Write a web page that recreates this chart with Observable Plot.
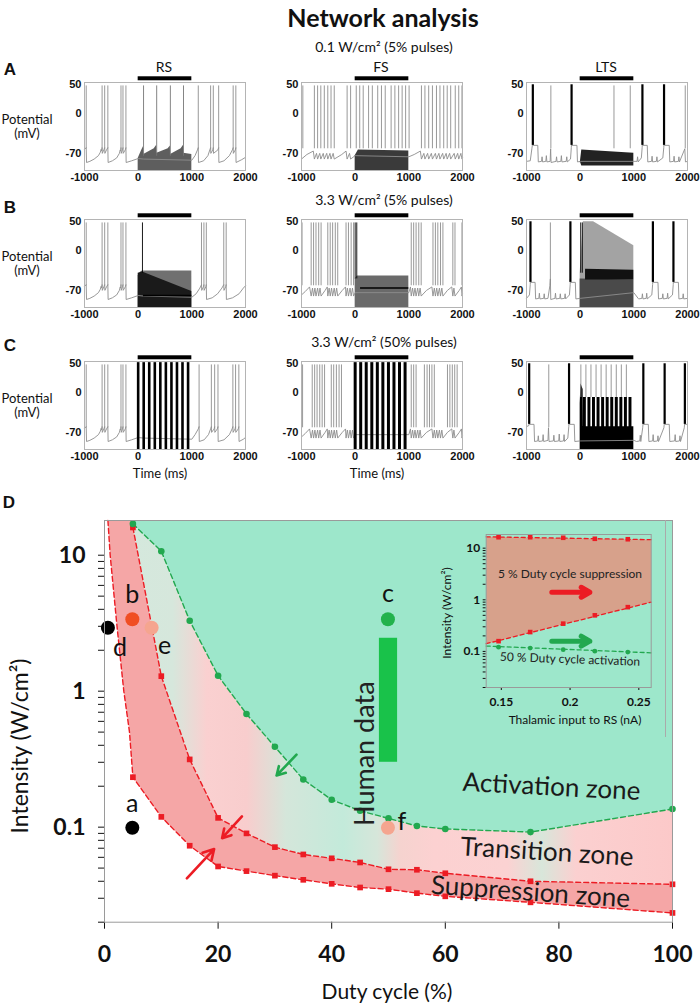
<!DOCTYPE html>
<html><head><meta charset="utf-8">
<script src="https://cdn.jsdelivr.net/npm/d3@7"></script>
<script src="https://cdn.jsdelivr.net/npm/@observablehq/plot@0.6"></script>
<style>
body{margin:0;background:#fff;}
#root{position:relative;width:700px;height:1004px;overflow:hidden;font-family:Lato,"Open Sans",sans-serif;color:#111;}
.t{position:absolute;white-space:nowrap;transform:translate(-50%,-50%);line-height:1;}
</style></head><body><div id="root"></div>
<script>
// ---------------- DATA: voltage traces ----------------
const traceTicksX = [-1000, 0, 1000, 2000];
const traceTicksY = [-70, 0, 50];
const stimWindow = [0, 1000];

// RS cell
const rsBasePre = [[-1000,-63],[-968,-60],[-962,-86],[-900,-84],[-820,-80],[-740,-74],[-705,-68],[-690,-63],[-682,-66],[-672,-60],[-668,-70],[-640,-64],[-624,-60],[-620,-70],[-590,-64],[-565,-60],[-560,-86],[-480,-83],[-400,-78],[-350,-70],[-335,-64],[-326,-66],[-320,-60],[-316,-70],[-293,-64],[-283,-60],[-279,-70],[-240,-64],[-228,-60],[-224,-86],[-120,-83],[0,-79],[100,-80],[1000,-82]];
const rsSpikesPre = [-968,-672,-624,-565,-320,-283,-228];
const rsPostA = [[1000,-82],[1060,-74],[1105,-64],[1120,-60],[1124,-86],[1220,-83],[1300,-74],[1335,-64],[1350,-60],[1354,-70],[1390,-64],[1400,-60],[1404,-70],[1485,-64],[1500,-60],[1504,-86],[1600,-83],[1700,-74],[1755,-64],[1770,-60],[1774,-70],[1810,-64],[1820,-60],[1824,-86],[1930,-81],[2000,-77]];
const rsSpikesPostA = [1120,1350,1400,1500,1770,1820];
const rsPostB = [[1000,-82],[1080,-76],[1150,-66],[1180,-60],[1184,-70],[1215,-64],[1225,-60],[1229,-70],[1260,-64],[1270,-60],[1274,-86],[1380,-83],[1480,-76],[1560,-66],[1595,-60],[1599,-70],[1630,-64],[1640,-60],[1644,-86],[1760,-83],[1880,-76],[1960,-66],[2000,-62]];
const rsSpikesPostB = [1180,1225,1270,1595,1640];
const rsPostC = [[1000,-82],[1060,-74],[1120,-64],[1135,-60],[1139,-86],[1230,-83],[1310,-74],[1350,-64],[1364,-60],[1368,-70],[1415,-64],[1425,-60],[1429,-70],[1475,-64],[1487,-60],[1491,-86],[1600,-83],[1700,-74],[1750,-64],[1765,-60],[1769,-70],[1805,-64],[1815,-60],[1819,-70],[1865,-64],[1876,-60],[1880,-86],[1960,-82],[2000,-79]];
const rsSpikesPostC = [1135,1364,1425,1487,1765,1815,1876];
const rsStimA = [[0,-79],[60,-66],[100,-58],[104,-72],[300,-62],[345,-56],[349,-70],[560,-62],[600,-57],[604,-72],[800,-62],[845,-56],[849,-70],[1000,-72]];
const rsStimSpikesA = [100,345,600,845];
const rsStimB = [[0,-45],[50,-38],[80,-36],[1000,-36]];
const rsStimDarkB = [[0,-40],[80,-38],[1000,-72]];
const rsStimSpikesB = [80];
const pulseTimes = [0,103,206,310,413,516,620,723,826,930];

// FS cell
const fsSpikesA = [-975,-760,-700,-640,-575,-510,-450,-390,-150,-85,20,85,150,250,320,420,490,560,670,740,810,875,940,1005,1235,1300,1370,1440,1515,1580,1650,1715,1780,1865,1930,1990];
const fsBaseA = [[-1000,-80],[-900,-72],[-780,-66],[-760,-80],[-720,-70],[-700,-80],[-660,-70],[-640,-80],[-595,-70],[-575,-80],[-530,-70],[-510,-80],[-470,-70],[-450,-80],[-410,-70],[-390,-80],[-250,-72],[-170,-66],[-150,-80],[-105,-70],[-85,-80],[0,-74],[1000,-76],[1100,-72],[1215,-66],[1235,-80],[1280,-70],[1300,-80],[1350,-70],[1370,-80],[1420,-70],[1440,-80],[1495,-70],[1515,-80],[1560,-70],[1580,-80],[1630,-70],[1650,-80],[1695,-70],[1715,-80],[1760,-70],[1780,-80],[1845,-70],[1865,-80],[1910,-70],[1930,-80],[1970,-70],[1990,-80],[2000,-78]];
const fsStimA = [[0,-74],[60,-64],[1000,-66]];
const fsSpikesB = [-990,-820,-775,-730,-680,-635,-510,-465,-420,-370,-325,-170,-125,-75,-30,1045,1090,1135,1185,1230,1450,1495,1540,1590,1635,1820,1860,1990];
const fsBaseB = [[-1000,-78],[-930,-72],[-850,-64],[-820,-80],[-795,-66],[-775,-80],[-750,-66],[-730,-80],[-700,-66],[-680,-80],[-655,-66],[-635,-80],[-560,-70],[-520,-64],[-510,-80],[-485,-66],[-465,-80],[-440,-66],[-420,-80],[-390,-66],[-370,-80],[-345,-66],[-325,-80],[-240,-70],[-180,-64],[-170,-80],[-145,-66],[-125,-80],[-95,-66],[-75,-80],[-50,-66],[-30,-80],[0,-74],[1000,-74],[1030,-64],[1045,-80],[1070,-66],[1090,-80],[1115,-66],[1135,-80],[1165,-66],[1185,-80],[1210,-66],[1230,-80],[1330,-70],[1430,-64],[1450,-80],[1475,-66],[1495,-80],[1520,-66],[1540,-80],[1570,-66],[1590,-80],[1615,-66],[1635,-80],[1720,-70],[1800,-64],[1820,-80],[1840,-66],[1860,-80],[1940,-70],[1980,-64],[1990,-80],[2000,-76]];
const fsStimB = [[0,-50],[40,-45],[1000,-45]];
const fsStimSpikesB = [0,30];
const fsSpikesC = [-980,-800,-755,-710,-660,-615,-570,-445,-400,-350,-300,-255,1045,1090,1135,1290,1340,1385,1430,1475,1720,1765,1810,1855,1900];

// LTS cell
const ltsBurstsA = [-882,-160,1160,1563];
const ltsSpikesA = [-546,630,933,1958];
const ltsBaseA = [[-1000,-84],[-930,-83],[-900,-62],[-882,-50],[-876,-56],[-790,-56],[-780,-85],[-720,-84],[-710,-76],[-700,-85],[-640,-84],[-630,-74],[-620,-85],[-560,-84],[-550,-62],[-542,-86],[-450,-84],[-440,-76],[-430,-85],[-360,-84],[-350,-74],[-340,-85],[-260,-84],[-250,-76],[-240,-85],[-180,-80],[-165,-60],[-160,-50],[-154,-56],[-60,-56],[-50,-85],[0,-84],[1000,-84],[1060,-84],[1070,-76],[1080,-85],[1140,-78],[1155,-60],[1160,-50],[1166,-56],[1250,-56],[1260,-85],[1330,-84],[1340,-75],[1350,-85],[1420,-84],[1430,-76],[1440,-85],[1540,-78],[1558,-60],[1563,-50],[1569,-56],[1660,-56],[1670,-85],[1740,-84],[1750,-75],[1760,-85],[1830,-84],[1840,-76],[1850,-85],[1950,-62],[1962,-85],[2000,-84]];
const ltsStimA = [[0,-88,-84],[30,-64,-92],[1000,-70,-92]];
const ltsBurstsB = [-926,-182,1355,1738];
const ltsSpikesB = [-555];
const ltsBaseB = [[-1000,-84],[-945,-78],[-930,-60],[-926,-50],[-920,-56],[-840,-56],[-830,-85],[-770,-84],[-760,-75],[-750,-85],[-680,-84],[-670,-76],[-660,-85],[-600,-84],[-565,-62],[-555,-50],[-548,-86],[-470,-84],[-460,-75],[-450,-85],[-380,-84],[-370,-76],[-360,-85],[-290,-84],[-280,-76],[-270,-85],[-200,-78],[-186,-60],[-182,-50],[-176,-56],[-90,-56],[-80,-85],[0,-84],[1000,-74],[1080,-84],[1090,-85],[1150,-84],[1160,-76],[1170,-85],[1230,-84],[1240,-75],[1250,-85],[1335,-78],[1350,-60],[1355,-50],[1361,-56],[1450,-56],[1460,-85],[1530,-84],[1540,-76],[1550,-85],[1620,-84],[1630,-75],[1640,-85],[1720,-78],[1734,-60],[1738,-50],[1744,-56],[1830,-56],[1840,-85],[1910,-84],[1920,-76],[1930,-85],[2000,-84]];
const ltsStimEnvB = [[0,-40],[60,50],[250,50],[1000,8]];
const ltsStimDarkB = [[0,-50],[1000,-52]];
const ltsStimBandB = [[100,-33,-52],[1000,-35,-52]];
const ltsStimSpikesB = [10,40];
const ltsBurstsC = [-950,-207,1177,1574,1951];
const ltsSpikesC = [-585];
const ltsBaseC = [[-1000,-60],[-955,-58],[-950,-50],[-944,-56],[-860,-56],[-850,-86],[-790,-85],[-780,-76],[-770,-86],[-700,-85],[-690,-74],[-680,-86],[-600,-84],[-590,-62],[-580,-86],[-500,-85],[-490,-75],[-480,-86],[-400,-85],[-390,-73],[-380,-86],[-310,-85],[-300,-74],[-290,-86],[-230,-80],[-212,-60],[-207,-50],[-200,-56],[-110,-56],[-100,-86],[0,-85],[1000,-84],[1050,-86],[1110,-85],[1120,-75],[1130,-86],[1165,-62],[1177,-50],[1183,-56],[1270,-56],[1280,-86],[1350,-85],[1360,-74],[1370,-86],[1440,-85],[1450,-76],[1460,-86],[1560,-62],[1574,-50],[1580,-56],[1660,-56],[1670,-86],[1760,-85],[1770,-74],[1780,-86],[1850,-85],[1860,-76],[1870,-86],[1940,-62],[1951,-50],[1957,-56],[2000,-56]];
const ltsStimC = [[0,-20],[15,15],[55,5],[60,-60],[1000,-60]];
const ltsTeethC = [60,145,230,315,400,485,570,655,740,825,910];
const ltsStimSpikesC = [13,107,201,296,390,484,578,673,767,861];

// ---------------- DATA: panel D ----------------
const dutyX      = [5, 10, 15, 20, 25, 30, 35, 40, 45, 50, 55, 60, 75, 100];
const activation = [17, 10.7, 3.3, 1.3, 0.68, 0.39, 0.224, 0.159, 0.132, 0.116, 0.102, 0.097, 0.092, 0.136];
const suppUpper  = [16, 1.29, 0.315, 0.117, 0.090, 0.0713, 0.063, 0.059, 0.055, 0.049, 0.0486, 0.0458, 0.040, 0.038];
const suppLower  = [0.233, 0.119, 0.073, 0.0514, 0.0475, 0.044, 0.041, 0.0383, 0.036, 0.035, 0.0327, 0.031, 0.028, 0.0234];
const suppLowerLeft = [[0.6, 18], [1.0, 10], [2.2, 3], [3.4, 1], [4.4, 0.5]];
const pointLabels = ["a", "b", "c", "d", "e", "f"];
const pointDuty = [4.9, 4.9, 49.9, 0.6, 8.3, 49.9];
const pointIntensity = [0.099, 3.38, 3.38, 2.93, 2.93, 0.099];
const humanDuty = 50;
const humanRange = [0.3, 2.45];
const zoneLabels = ["Activation zone", "Transition zone", "Suppression zone"];
const zoneDuty = [78.7, 77.9, 75];
const zoneIntensity = [0.197, 0.0655, 0.0332];
const arrowsD = [
  {from: [33.8, 0.341], to: [30.3, 0.24], kind: "act"},
  {from: [24.2, 0.12], to: [20.7, 0.083], kind: "sup"},
  {from: [14.5, 0.042], to: [19.3, 0.069], kind: "sup"}
];
const dTicksX = [0, 20, 40, 60, 80, 100];
const dTicksMajor = [0.1, 1, 10];

// inset
const thalamic = [0.148, 0.171, 0.195, 0.218, 0.242];
const insetSupUpper = [16.3, 16.3, 15.9, 15.2, 14.9];
const insetSupLower = [0.158, 0.237, 0.345, 0.50, 0.72];
const insetAct = [0.121, 0.116, 0.108, 0.101, 0.097];
const insetFitX = [0.139, 0.259];
const insetFitSupUpper = [16.6, 14.6];
const insetFitSupLower = [0.141, 0.90];
const insetFitAct = [0.127, 0.094];
const insetTicksX = [0.15, 0.2, 0.25];
const insetArrowX = [0.1867, 0.2144];
const insetArrowY = {sup: 1.4, act: 0.158};
const insetTexts = ["5 % Duty cycle suppression", "50 % Duty cycle activation"];
const insetTextX = [0.2, 0.2];
const insetTextY = [3.18, 0.070];

// ---------------- styles ----------------
const GRAY = "#8d8d8d";
const RED = "#ec1c24";
const GREEN = "#22a84f";
const MINT = "#9de7cb";
const PINK = "#f5a6a6";
const BROWN = "#d7a18b";
const pointColor = {a: "#000", b: "#f04e23", c: "#22b24c", d: "#000", e: "#f5a58f", f: "#f5a58f"};
const pointOffset = {a: [0, -24], b: [0, -24], c: [0, -25], d: [12, 20], e: [13, 18], f: [14, -6]};
const gradStops = [[0,"#d3e9dd"],[12,"#d6e7dc"],[18,"#fad0d0"],[25,"#f8cdcd"],[32,"#d4e6da"],[42,"#c3eada"],[48,"#d6e6da"],[52,"#f5d3cf"],[58,"#fcd1d1"],[71,"#fbd2d2"],[77,"#d8e6da"],[83,"#fbd0d0"],[100,"#fcc9c9"]];

const root = document.getElementById("root");
const Y_MIN = -100, Y_MAX = 54;

function place(el, x, y) {
  el.style.position = "absolute";
  el.style.left = x + "px";
  el.style.top = y + "px";
  root.appendChild(el);
}
function label(text, x, y, size, opts = {}) {
  const d = document.createElement("div");
  d.className = "t";
  d.textContent = text;
  d.style.left = x + "px";
  d.style.top = y + "px";
  d.style.fontSize = size + "px";
  if (opts.bold) d.style.fontWeight = "700";
  if (opts.family) d.style.fontFamily = opts.family;
  if (opts.rotate) d.style.transform = `translate(-50%,-50%) rotate(${opts.rotate}deg)`;
  root.appendChild(d);
}

function tracePanel(p, fx, fy) {
  const mL = 40, mR = 6, mT = 12, mB = 22, W = 161, H = 88;
  const marks = [];
  for (const f of p.fills ?? []) marks.push(Plot.areaY(f.pts, {x: d => d[0], y1: d => d[2] ?? Y_MIN, y2: d => d[1], fill: f.fill}));
  marks.push(Plot.line(p.base, {x: d => d[0], y: d => d[1], stroke: GRAY, strokeWidth: 0.9}));
  if (p.spikes) marks.push(Plot.ruleX(p.spikes, {x: d => d, y1: -62, y2: 48, stroke: GRAY, strokeWidth: 0.9}));
  if (p.teeth) marks.push(Plot.rect(p.teeth, {x1: d => d, x2: d => d + 55, y1: -62, y2: -9, fill: "#000"}));
  if (p.stimSpikes) marks.push(Plot.ruleX(p.stimSpikes, {x: d => d, y1: p.stimLow ?? -75, y2: 48, stroke: p.stimColor ?? GRAY, strokeWidth: 0.9}));
  if (p.hline) marks.push(Plot.ruleY([p.hline[0]], {x1: p.hline[1], x2: p.hline[2], stroke: "#000", strokeWidth: 1.6}));
  if (p.bursts) marks.push(Plot.ruleX(p.bursts, {x: d => d, y1: -56, y2: 50, stroke: "#000", strokeWidth: 2.2}));
  if (p.pulses) marks.push(Plot.ruleX(p.pulses, {x: d => d, y1: Y_MIN, y2: 52, stroke: "#000", strokeWidth: p.pulseWidth ?? 2.6}));
  marks.push(Plot.rect([stimWindow], {x1: d => d[0], x2: d => d[1], y1: 57, y2: 64, fill: "#000"}));
  marks.push(Plot.frame({stroke: "#b4b4b4"}));
  const svg = Plot.plot({
    width: mL + W + mR, height: mT + H + mB,
    marginLeft: mL, marginRight: mR, marginTop: mT, marginBottom: mB,
    x: {domain: [-1000, 2000], ticks: traceTicksX, tickFormat: d => String(d), tickSize: 0, tickPadding: 3, label: null},
    y: {domain: [Y_MIN, Y_MAX], ticks: traceTicksY, tickFormat: d => String(d), tickSize: 0, tickPadding: 3, label: null},
    style: {fontFamily: "'Liberation Sans', Arial, sans-serif", fontSize: "11px", fontWeight: "bold", background: "transparent", overflow: "visible"},
    marks
  });
  place(svg, fx - mL, fy - mT);
}

// ---------------- layout: traces ----------------
const colX = [84, 300.5, 525.5];
const rowY = [82, 219, 361];

const panels = [
  // row A
  [{base: [...rsBasePre, ...rsPostA], spikes: [...rsSpikesPre, ...rsSpikesPostA], fills: [{pts: rsStimA, fill: "#5e5e5e"}], stimSpikes: rsStimSpikesA, stimColor: "#777"},
   {base: fsBaseA, spikes: fsSpikesA, fills: [{pts: fsStimA, fill: "#3a3a3a"}]},
   {base: ltsBaseA, spikes: ltsSpikesA, bursts: ltsBurstsA, fills: [{pts: ltsStimA, fill: "#222"}]}],
  // row B
  [{base: [...rsBasePre, ...rsPostB], spikes: [...rsSpikesPre, ...rsSpikesPostB], fills: [{pts: rsStimB, fill: "#707070"}, {pts: rsStimDarkB, fill: "#1a1a1a"}], stimSpikes: rsStimSpikesB, stimColor: "#000", stimLow: -40, hline: [-79, 100, 1000]},
   {base: fsBaseB, spikes: fsSpikesB, fills: [{pts: fsStimB, fill: "#6a6a6a"}], stimSpikes: fsStimSpikesB, stimColor: "#000", stimLow: -50, hline: [-66, 100, 1000]},
   {base: ltsBaseB, spikes: ltsSpikesB, bursts: ltsBurstsB, fills: [{pts: ltsStimEnvB, fill: "#a3a3a3"}, {pts: ltsStimDarkB, fill: "#4a4a4a"}, {pts: ltsStimBandB, fill: "#111"}], stimSpikes: ltsStimSpikesB, stimColor: "#000", stimLow: -40}],
  // row C
  [{base: [...rsBasePre, ...rsPostC], spikes: [...rsSpikesPre, ...rsSpikesPostC], pulses: pulseTimes},
   {base: fsBaseB, spikes: fsSpikesC, pulses: pulseTimes, pulseWidth: 3},
   {base: ltsBaseC, spikes: ltsSpikesC, bursts: ltsBurstsC, fills: [{pts: ltsStimC, fill: "#000"}], teeth: ltsTeethC, stimSpikes: ltsStimSpikesC, stimLow: -9}]
];
panels.forEach((row, r) => row.forEach((p, c) => tracePanel(p, colX[c], rowY[r])));

// text for traces
label("Network analysis", 383, 17, 25, {bold: true});
label("0.1 W/cm² (5% pulses)", 384, 47, 14);
label("3.3  W/cm² (5% pulses)", 384, 200, 14);
label("3.3  W/cm² (50% pulses)", 384, 342, 14);
label("RS", 164, 67, 14); label("FS", 381, 67, 14); label("LTS", 606, 67, 14);
["A", "B", "C"].forEach((L, i) => {
  label(L, 10, [69, 207, 345][i], 17, {bold: true, family: "'Liberation Sans', Arial"});
  label("Potential", 27, rowY[i] + 37, 13);
  label("(mV)", 27, rowY[i] + 51, 13);
});
label("Time (ms)", 160, 473, 13);
label("Time (ms)", 377, 473, 13);
label("D", 9, 502, 17, {bold: true, family: "'Liberation Sans', Arial"});

// ---------------- panel D ----------------
{
  const W = 700, H = 514, mL = 104, mR = 28, mT = 30, mB = 82.3;
  const yTop = 18, yBot = 0.02;
  const act = dutyX.map((x, i) => [x, activation[i]]);
  const up = dutyX.map((x, i) => [x, suppUpper[i]]);
  const lo = dutyX.map((x, i) => [x, suppLower[i]]);
  const actPoly = [...act, [100, yTop], [5, yTop]];
  const transPoly = [...up, ...act.slice().reverse()];
  const supPoly = [...suppLowerLeft, ...lo, ...up.slice().reverse(), [5, yTop]];
  const minor = [];
  for (const dec of [0.01, 0.1, 1, 10]) for (let k = 1; k <= 9; k++) { const v = +(k * dec).toPrecision(3); if (v >= yBot && v <= yTop) minor.push(v); }
  const pts = pointLabels.map((l, i) => ({l, x: pointDuty[i], y: pointIntensity[i]}));
  const marks = [
    Plot.line(supPoly, {x: d => d[0], y: d => d[1], fill: PINK, stroke: "none"}),
    Plot.line(transPoly, {x: d => d[0], y: d => d[1], fill: "#010203", stroke: "none"}),
    Plot.line(actPoly, {x: d => d[0], y: d => d[1], fill: MINT, stroke: "none"}),
    Plot.line([...suppLowerLeft, ...lo], {x: d => d[0], y: d => d[1], stroke: RED, strokeWidth: 1.4, strokeDasharray: "5,3"}),
    Plot.line(up, {x: d => d[0], y: d => d[1], stroke: RED, strokeWidth: 1.4, strokeDasharray: "5,3"}),
    Plot.line(act, {x: d => d[0], y: d => d[1], stroke: GREEN, strokeWidth: 1.4, strokeDasharray: "5,3"}),
    Plot.dot([...lo, ...up], {x: d => d[0], y: d => d[1], symbol: "square", r: 3.2, fill: RED, stroke: "none"}),
    Plot.dot(act, {x: d => d[0], y: d => d[1], r: 3.3, fill: GREEN, stroke: "none"}),
    Plot.rect([humanRange], {x1: humanDuty - 1.6, x2: humanDuty + 1.6, y1: d => d[0], y2: d => d[1], fill: "#19c24a"}),
    Plot.text(["Human data"], {x: 45.9, y: 0.347, rotate: -90, fontSize: 27, fontWeight: "normal", fill: "#222"}),
    ...zoneLabels.map((z, i) => Plot.text([z], {x: zoneDuty[i], y: zoneIntensity[i], rotate: [3, 3.5, 4][i], fontSize: 26, fontWeight: "normal", fill: "#1a1a1a"})),
    Plot.arrow(arrowsD, {x1: d => d.from[0], y1: d => d.from[1], x2: d => d.to[0], y2: d => d.to[1], stroke: d => d.kind === "act" ? GREEN : RED, strokeWidth: 2.6, headLength: 7}),
    Plot.dot(pts, {x: "x", y: "y", r: 7, fill: d => pointColor[d.l], stroke: "none"}),
    ...pts.map(p => Plot.text([p], {x: "x", y: "y", text: "l", dx: pointOffset[p.l][0], dy: pointOffset[p.l][1], fontSize: 25, fontWeight: "normal", fill: "#111"})),
    Plot.frame({stroke: "#9a9a9a"})
  ];
  const svg = Plot.plot({
    width: W, height: H, marginLeft: mL, marginRight: mR, marginTop: mT, marginBottom: mB,
    x: {domain: [0, 100], ticks: dTicksX, tickSize: 7, tickPadding: 16, label: null, tickFormat: d => String(d)},
    y: {type: "log", domain: [yBot, yTop], ticks: minor, tickSize: 6, tickPadding: 13, label: null,
        tickFormat: d => dTicksMajor.some(m => Math.abs(m - d) < 1e-9) ? String(d) : ""},
    color: {type: "identity"},
    style: {fontFamily: "Lato, sans-serif", fontSize: "23px", fontWeight: "bold", background: "transparent", overflow: "visible"},
    marks
  });
  // gradient for the transition zone
  const ns = "http://www.w3.org/2000/svg";
  const defs = document.createElementNS(ns, "defs");
  const lg = document.createElementNS(ns, "linearGradient");
  lg.setAttribute("id", "tg"); lg.setAttribute("gradientUnits", "userSpaceOnUse");
  lg.setAttribute("x1", mL); lg.setAttribute("x2", W - mR); lg.setAttribute("y1", 0); lg.setAttribute("y2", 0);
  for (const [o, c] of gradStops) { const s = document.createElementNS(ns, "stop"); s.setAttribute("offset", o + "%"); s.setAttribute("stop-color", c); lg.appendChild(s); }
  defs.appendChild(lg); svg.insertBefore(defs, svg.firstChild);
  svg.querySelectorAll('[fill="#010203"]').forEach(e => e.setAttribute("fill", "url(#tg)"));
  place(svg, 0, 490);
  label("Intensity (W/cm²)", 19, 746, 23, {rotate: -90});
  label("Duty cycle  (%)", 387, 990, 21);
}

// ---------------- inset ----------------
{
  const W = 240, H = 240, mL = 55.7, mR = 19.3, mT = 29, mB = 58;
  const yTop = 18.4, yBot = 0.02;
  const minor = [];
  for (const dec of [0.01, 0.1, 1, 10]) for (let k = 1; k <= 9; k++) { const v = +(k * dec).toPrecision(3); if (v >= yBot && v <= yTop) minor.push(v); }
  const fit = (ys) => insetFitX.map((x, i) => [x, ys[i]]);
  const brown = [...fit(insetFitSupUpper), ...fit(insetFitSupLower).reverse()];
  const marks = [
    Plot.line(brown, {x: d => d[0], y: d => d[1], fill: BROWN, stroke: "none"}),
    Plot.line(fit(insetFitSupUpper), {x: d => d[0], y: d => d[1], stroke: RED, strokeWidth: 1.3, strokeDasharray: "4,3"}),
    Plot.line(fit(insetFitSupLower), {x: d => d[0], y: d => d[1], stroke: RED, strokeWidth: 1.3, strokeDasharray: "4,3"}),
    Plot.line(fit(insetFitAct), {x: d => d[0], y: d => d[1], stroke: GREEN, strokeWidth: 1.3, strokeDasharray: "4,3"}),
    Plot.dot(thalamic.map((x, i) => [x, insetSupUpper[i]]).concat(thalamic.map((x, i) => [x, insetSupLower[i]])), {x: d => d[0], y: d => d[1], symbol: "square", r: 2.6, fill: RED, stroke: "none"}),
    Plot.dot(thalamic.map((x, i) => [x, insetAct[i]]), {x: d => d[0], y: d => d[1], r: 2.4, fill: GREEN, stroke: "none"}),
    Plot.arrow([insetArrowY.sup], {x1: insetArrowX[0], x2: insetArrowX[1], y1: d => d, y2: d => d, stroke: RED, strokeWidth: 5, headLength: 3}),
    Plot.arrow([insetArrowY.act], {x1: insetArrowX[0], x2: insetArrowX[1], y1: d => d, y2: d => d, stroke: GREEN, strokeWidth: 5, headLength: 3}),
    Plot.text([insetTexts[0]], {x: insetTextX[0], y: insetTextY[0], fontSize: 12, fontWeight: "normal", fill: "#222"}),
    Plot.text([insetTexts[1]], {x: insetTextX[1], y: insetTextY[1], fontSize: 12, fontWeight: "normal", fill: "#222", rotate: 2}),
    Plot.frame({stroke: "#9a9a9a"})
  ];
  const svg = Plot.plot({
    width: W, height: H, marginLeft: mL, marginRight: mR, marginTop: mT, marginBottom: mB,
    x: {domain: insetFitX, ticks: insetTicksX, tickSize: 3, tickPadding: 7, label: null, tickFormat: d => String(d)},
    y: {type: "log", domain: [yBot, yTop], ticks: minor, tickSize: 3, tickPadding: 3, label: null,
        tickFormat: d => dTicksMajor.some(m => Math.abs(m - d) < 1e-9) ? String(d) : ""},
    style: {fontFamily: "Lato, sans-serif", fontSize: "12px", fontWeight: "bold", background: "transparent", overflow: "visible"},
    marks
  });
  place(svg, 430, 505);
  const border = document.createElement("div");
  border.style.cssText = "position:absolute;left:665px;top:520px;width:1px;height:217px;background:#aaa;";
  root.appendChild(border);
  label("Intensity (W/cm²)", 447, 613, 12, {rotate: -90});
  label("Thalamic input to RS (nA)", 575, 720, 12);
}
</script></body></html>
